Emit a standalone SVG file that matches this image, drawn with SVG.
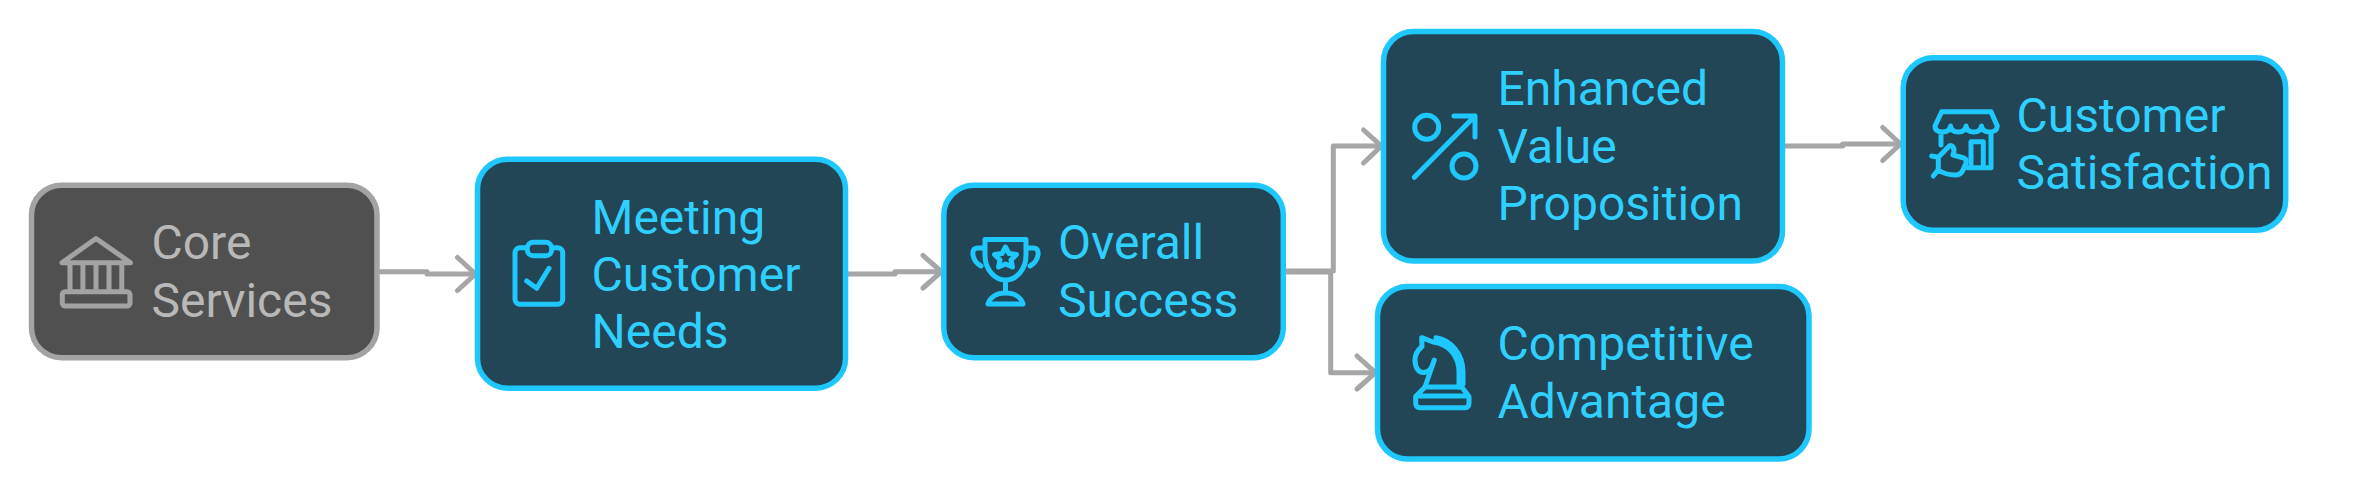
<svg xmlns="http://www.w3.org/2000/svg" width="2360" height="491" viewBox="0 0 2360 491">
<style>
.box{fill:#224655;stroke:#1ec8ff;stroke-width:5.5}
.box.g{fill:#505050;stroke:#a3a3a3}
.t{font-family:Roboto,"Liberation Sans",sans-serif;font-size:48px;fill:#2fd0ff}
.t.g{fill:#b8b8b8}
.i{fill:none;stroke:#1ec8ff;stroke-width:5;stroke-linecap:round;stroke-linejoin:round}
.i.g{stroke:#a3a3a3}
.c{fill:none;stroke:#a6a6a6;stroke-width:5;stroke-linecap:round;stroke-linejoin:round}
</style>
<rect width="2360" height="491" fill="#fff"/>
<g id="connectors" class="c">
<path d="M379 271.7H427V274H475"/><path d="M457.5 257.5L475.5 274L457.5 290.5"/>
<path d="M846 274H895V271.7H941"/><path d="M923 255.5L941.5 271.7L923 288"/>
<path d="M1285 271H1333.3V146H1381"/><path d="M1363.5 130L1381.5 146L1363.5 163"/>
<path d="M1285 272H1330.7V372.7H1375"/><path d="M1357 356L1375.5 372.7L1357 389"/>
<path d="M1783 146H1842.7V144H1900"/><path d="M1882.7 127.5L1900.5 144L1882.7 160.5"/>
</g>
<g id="node-core-services">
<rect class="box g" x="31.5" y="185.2" width="345.5" height="172.5" rx="30"/>
<path class="i g" d="M96 238.5L62 262.7H130.5Z M70 263V291.5M82.9 263V291.5M96 263V291.5M109 263V291.5M121.8 263V291.5"/>
<rect class="i g" x="62.3" y="291.7" width="67.7" height="14.3" rx="3"/>
<text class="t g" x="151.5" y="259.3">Core</text><text class="t g" x="151.5" y="317">Services</text>
</g>
<g id="node-meeting-customer-needs">
<rect class="box" x="477.5" y="159.2" width="368" height="229" rx="30"/>
<rect class="i" x="515" y="247.7" width="47.7" height="56.6" rx="5"/>
<rect class="i" style="fill:#224655" x="527.3" y="242.3" width="24.4" height="13.4" rx="6"/>
<path class="i" d="M526.7 281L536.7 288.3L549 268.3"/>
<text class="t" x="591.5" y="233.7">Meeting</text><text class="t" x="591.5" y="291">Customer</text><text class="t" x="591.5" y="348.3">Needs</text>
</g>
<g id="node-overall-success">
<rect class="box" x="943.8" y="185.2" width="339.5" height="172.5" rx="30"/>
<path class="i" d="M985 239.5H1026V255C1026 270 1016 280 1005.5 280C995 280 985 270 985 255Z M985 248H978Q972 248 973 255Q974 262 981 266 M1026 248H1033Q1039 248 1038 255Q1037 262 1030 266 M1005.5 280V293 M988 304C990 297 997 293 1005.5 293C1014 293 1021 297 1023 304Z"/>
<path class="i" d="M1005.5 247L1009 253.5L1016.5 254.5L1011 260L1012.5 267L1005.5 264L998.5 267L1000 260L994.5 254.5L1002 253.5Z"/>
<text class="t" x="1058" y="259.3">Overall</text><text class="t" x="1058" y="317">Success</text>
</g>
<g id="node-enhanced-value-proposition">
<rect class="box" x="1383.5" y="31.5" width="399" height="229.5" rx="30"/>
<circle class="i" cx="1426.7" cy="127.3" r="12"/><circle class="i" cx="1464" cy="166" r="12"/>
<path class="i" d="M1414.3 177.3L1475 116M1454 116H1475V137"/>
<text class="t" x="1497.5" y="105.3">Enhanced</text><text class="t" x="1497.5" y="163">Value</text><text class="t" x="1497.5" y="220.3">Proposition</text>
</g>
<g id="node-competitive-advantage">
<rect class="box" x="1377.5" y="286.5" width="431.5" height="172.5" rx="30"/>
<path class="i" d="M1425 387L1434.3 360C1432 366 1431 372 1424 372.5C1419 373 1415 368 1415 360C1415 353 1419 349 1422 346.5L1421.7 337.7L1433 342C1449 344 1459 356 1459 372V387M1436 337.7C1451 340 1463 354 1463 372V384"/>
<path class="i" d="M1425 387H1461.7L1469 396.5V403Q1469 407.7 1465 407.7H1420Q1415.7 407.7 1415.7 403V396.5ZM1416 396H1468.5"/>
<text class="t" x="1497.5" y="360.3">Competitive</text><text class="t" x="1497.5" y="418.3">Advantage</text>
</g>
<g id="node-customer-satisfaction">
<rect class="box" x="1903.2" y="57.8" width="382.5" height="172.5" rx="30"/>
<path class="i" d="M1941.7 111.7H1991L1997.3 126Q1997 132 1989.5 132Q1982 132 1981.5 126Q1981 132 1973.7 132Q1966.5 132 1966 126Q1965.5 132 1958.2 132Q1951 132 1950.5 126Q1950 132 1942.5 132Q1935 132 1935 126Z M1941 132V145 M1991 132V167.7H1967.7 M1971 167V141.7H1983.3V167"/>
<path class="i" d="M1931.7 156L1938.3 157.3L1948.3 147Q1951 144 1953 147Q1955 150 1953 155L1964 158Q1967 159 1966 163L1963 170Q1961 175 1955 175Q1946 175 1938 170L1933.3 176M1938.3 157.3V170"/>
<text class="t" x="2016.5" y="131.7">Customer</text><text class="t" x="2016.5" y="189.3">Satisfaction</text>
</g>
</svg>
